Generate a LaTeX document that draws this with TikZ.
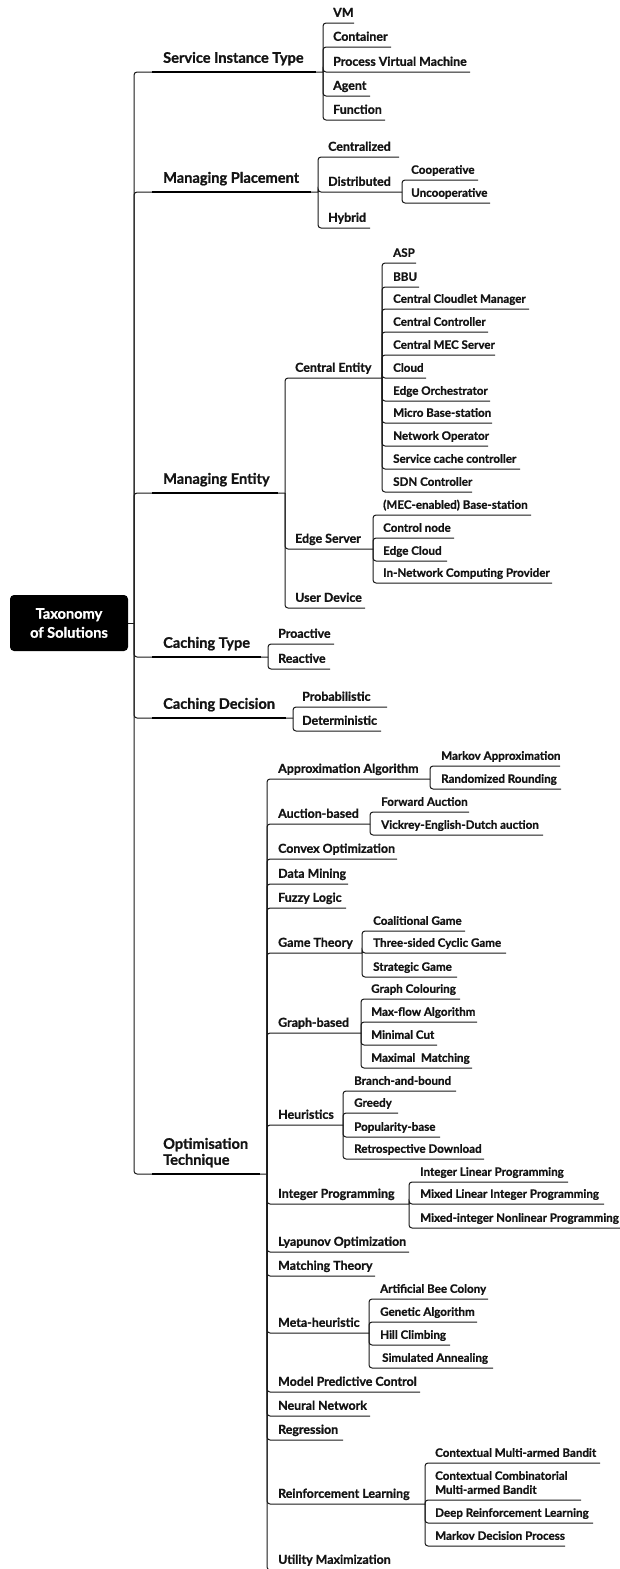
\documentclass[tikz,border=0pt]{standalone}
\usepackage{fontspec}
\setmainfont{Lato}[BoldFeatures={FakeBold=1}]

% a first-level topic: thin branch from the root, heavy underline, label
\newcommand\mainbranch[4]{% name, y of underline, x of its own branch, text
  \coordinate (#1-e) at (#3,#2);
  \draw[conn] (root-e) |- (#1-e);
  \node[tl] (#1) at (163,#2) {#4};
  \path (#1.south west |- #1-e) coordinate (#1-s);
  \draw[bar] ([xshift=-11pt]#1-s) -- ([xshift=-7pt]#1-e);
}
% a sub-topic: branch from the parent's joint, underline, label
\newcommand\sub[7][tx3]{% [style], name, parent, x of text, y of underline, x of underline end, text
  \coordinate (#2-e) at (#6,#5);
  \draw[conn] (#3-e) |- (#2-e);
  \node[#1] (#2) at (#4,#5) {#7};
}

\begin{document}
\begin{tikzpicture}[x=1pt,y=-1pt,
  conn/.style={draw=black!90, line width=1pt, rounded corners=3pt},
  bar/.style={draw=black, line width=2.4pt},
  lbl/.style={inner sep=0pt, anchor=south west, text depth=0pt, align=left, text=black!92},
  tl/.style={lbl, font=\fontsize{14.6}{16}\selectfont\bfseries, yshift=9pt},
  tx2/.style={lbl, font=\fontsize{12.4}{14}\selectfont\bfseries, yshift=6pt},
  tx3/.style={lbl, font=\fontsize{11.6}{14}\selectfont\bfseries, yshift=6pt},
  rootbox/.style={fill=black, text=white, rounded corners=4pt, inner sep=0pt,
    minimum width=118pt, minimum height=56pt, align=center,
    font=\fontsize{14.6}{19}\selectfont\bfseries}]
\useasboundingbox (0,0) rectangle (619,1569);

% root
\node[rootbox] (root) at (69,623) {Taxonomy\\of Solutions};
\coordinate (root-e) at (134,623);
\draw[conn] (root.east) -- (root-e);

% Service Instance Type
\mainbranch{sit}{72}{323}{Service Instance Type}
\sub[tx2]{vm}{sit}{333}{23}{354}{VM}
\sub[tx2]{cont}{sit}{333}{47}{391}{Container}
\sub[tx2]{pvm}{sit}{333}{72}{470}{Process Virtual Machine}
\sub[tx2]{agent}{sit}{333}{96}{370}{Agent}
\sub[tx2]{func}{sit}{333}{120}{385}{Function}

% Managing Placement
\mainbranch{mp}{192}{318}{Managing Placement}
\sub[tx2]{cen}{mp}{328}{157}{399}{Centralized}
\sub[tx2]{dis}{mp}{328}{192}{402}{Distributed}
\sub{coop}{dis}{411}{180}{478}{Cooperative}
\sub{uncoop}{dis}{411}{203}{490}{Uncooperative}
\sub[tx2]{hyb}{mp}{328}{228}{370}{Hybrid}

% Managing Entity
\mainbranch{me}{493}{285}{Managing Entity}
\sub[tx2]{ce}{me}{295}{378}{382}{Central Entity}
\sub{asp}{ce}{393}{263}{416}{ASP}
\sub{bbu}{ce}{393}{287}{419}{BBU}
\sub{ccm}{ce}{393}{309}{529}{Central Cloudlet Manager}
\sub{cc}{ce}{393}{332}{488}{Central Controller}
\sub{cmec}{ce}{393}{355}{495}{Central MEC Server}
\sub{cloud}{ce}{393}{378}{426}{Cloud}
\sub{eo}{ce}{393}{401}{490}{Edge Orchestrator}
\sub{mbs}{ce}{393}{423}{492}{Micro Base-station}
\sub{nop}{ce}{393}{446}{488}{Network Operator}
\sub{scc}{ce}{393}{469}{520}{Service cache controller}
\sub{sdn}{ce}{393}{492}{472}{SDN Controller}
\sub[tx2]{es}{me}{295}{549}{373}{Edge Server}
\sub{mec}{es}{383}{515}{531}{(MEC-enabled) Base-station}
\sub{cn}{es}{383}{538}{454}{Control node}
\sub{ec}{es}{383}{561}{447}{Edge Cloud}
\sub{incp}{es}{383}{583}{552}{In-Network Computing Provider}
\sub[tx2]{ud}{me}{295}{608}{365}{User Device}

% Caching Type
\mainbranch{ct}{657}{268}{Caching Type}
\sub[tx2]{pro}{ct}{278}{644}{334}{Proactive}
\sub[tx2]{rea}{ct}{278}{669}{330}{Reactive}

% Caching Decision
\mainbranch{cd}{718}{293}{Caching Decision}
\sub[tx2]{prob}{cd}{302}{707}{387}{Probabilistic}
\sub[tx2]{det}{cd}{302}{731}{381}{Deterministic}

% Optimisation Technique
\mainbranch{opt}{1174}{267}{Optimisation\\Technique}
\sub[tx2]{aa}{opt}{278}{779}{430}{Approximation Algorithm}
\sub{ma}{aa}{441}{766}{560}{Markov Approximation}
\sub{rr}{aa}{441}{789}{561}{Randomized Rounding}
\sub[tx2]{ab}{opt}{278}{824}{370}{Auction-based}
\sub{fwd}{ab}{381}{812}{469}{Forward Auction}
\sub{ved}{ab}{381}{835}{543}{Vickrey-English-Dutch auction}
\sub[tx2]{cvx}{opt}{278}{859}{397}{Convex Optimization}
\sub[tx2]{dm}{opt}{278}{884}{348}{Data Mining}
\sub[tx2]{fl}{opt}{278}{908}{346}{Fuzzy Logic}
\sub[tx2]{gt}{opt}{278}{953}{362}{Game Theory}
\sub{cg}{gt}{373}{931}{465}{Coalitional Game}
\sub{tcg}{gt}{373}{953}{506}{Three-sided Cyclic Game}
\sub{sg}{gt}{373}{977}{457}{Strategic Game}
\sub[tx2]{gb}{opt}{278}{1033}{361}{Graph-based}
\sub{gc}{gb}{371}{999}{460}{Graph Colouring}
\sub{mfa}{gb}{371}{1022}{477}{Max-flow Algorithm}
\sub{mcut}{gb}{371}{1045}{437}{Minimal Cut}
\sub{mm}{gb}{371}{1068}{472}{Maximal~ Matching}
\sub[tx2]{heu}{opt}{278}{1125}{343}{Heuristics}
\sub{bab}{heu}{354}{1091}{456}{Branch-and-bound}
\sub{gr}{heu}{354}{1113}{398}{Greedy}
\sub{pb}{heu}{354}{1137}{440}{Popularity-base}
\sub{rd}{heu}{354}{1159}{484}{Retrospective Download}
\sub[tx2]{ip}{opt}{278}{1204}{409}{Integer Programming}
\sub{ilp}{ip}{420}{1182}{568}{Integer Linear Programming}
\sub{mlip}{ip}{420}{1204}{604}{Mixed Linear Integer Programming}
\sub{minlp}{ip}{420}{1228}{620}{Mixed-integer Nonlinear Programming}
\sub[tx2]{lo}{opt}{278}{1252}{409}{Lyapunov Optimization}
\sub[tx2]{mt}{opt}{278}{1276}{375}{Matching Theory}
\sub[tx2]{mh}{opt}{278}{1333}{369}{Meta-heuristic}
\sub{abc}{mh}{380}{1299}{488}{Artificial Bee Colony}
\sub{ga}{mh}{380}{1322}{477}{Genetic Algorithm}
\sub{hc}{mh}{380}{1345}{450}{Hill Climbing}
\sub{sa}{mh}{382}{1368}{493}{Simulated Annealing}
\sub[tx2]{mpc}{opt}{278}{1392}{420}{Model Predictive Control}
\sub[tx2]{nn}{opt}{278}{1416}{370}{Neural Network}
\sub[tx2]{reg}{opt}{278}{1440}{343}{Regression}
\sub[tx2]{rl}{opt}{278}{1504}{425}{Reinforcement Learning}
\sub{cmab}{rl}{435}{1463}{600}{Contextual Multi-armed Bandit}
\sub{ccmab}{rl}{435}{1500}{581}{Contextual Combinatorial\\Multi-armed Bandit}
\sub{drl}{rl}{435}{1523}{593}{Deep Reinforcement Learning}
\sub{mdp}{rl}{435}{1546}{565}{Markov Decision Process}
\sub[tx2]{um}{opt}{278}{1570}{390}{Utility Maximization}
\end{tikzpicture}
\end{document}
